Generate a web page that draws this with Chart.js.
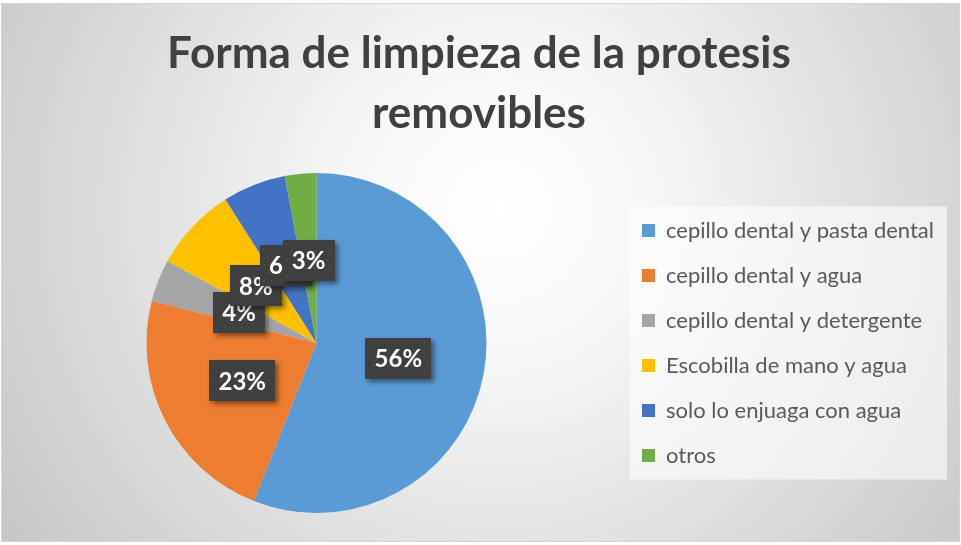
<!DOCTYPE html>
<html><head><meta charset="utf-8">
<script src="https://cdn.jsdelivr.net/npm/chart.js@4.4.1/dist/chart.umd.min.js"></script>
<style>html,body{margin:0;padding:0;background:#fff;overflow:hidden}canvas{display:block}</style>
</head><body>
<canvas id="c" width="961" height="545"></canvas>
<script>
const titleLines = ['Forma de limpieza de la protesis', 'removibles'];
const categories = ['cepillo dental y pasta dental', 'cepillo dental y agua', 'cepillo dental y detergente', 'Escobilla de mano y agua', 'solo lo enjuaga con agua', 'otros'];
const values = [56, 23, 4, 8, 6, 3];
const valueLabels = ['56%', '23%', '4%', '8%', '6%', '3%'];
const colors = ['#5B9BD5', '#ED7D31', '#A5A5A5', '#FFC000', '#4472C4', '#70AD47'];

const bgPlugin = {
  id: 'bg',
  beforeDraw(chart) {
    const ctx = chart.ctx, w = chart.width, h = chart.height;
    ctx.save();
    ctx.fillStyle = '#ffffff';
    ctx.fillRect(0, 0, w, h);
    const g = ctx.createRadialGradient(500, 210, 0, 500, 210, 600);
    g.addColorStop(0, '#ffffff');
    g.addColorStop(0.25, '#f7f7f7');
    g.addColorStop(1, '#c6c6c6');
    ctx.fillStyle = g;
    ctx.fillRect(1, 3, w - 2, h - 6);
    ctx.strokeStyle = '#d4d4d4';
    ctx.lineWidth = 1;
    ctx.strokeRect(1.5, 3.5, w - 3, h - 7);
    const lg = chart.legend;
    if (lg && lg.legendHitBoxes && lg.legendHitBoxes.length) {
      const hb = lg.legendHitBoxes;
      let l = Infinity, r = -Infinity, t = Infinity, b = -Infinity;
      hb.forEach(x => { l = Math.min(l, x.left); r = Math.max(r, x.left + x.width); t = Math.min(t, x.top); b = Math.max(b, x.top + x.height); });
      ctx.fillStyle = 'rgba(255,255,255,0.6)';
      ctx.fillRect(l - 12, t - 13, (r - l) + 25, (b - t) + 26);
    }
    ctx.restore();
  }
};

const labelPlugin = {
  id: 'boxLabels',
  afterDatasetsDraw(chart) {
    const ctx = chart.ctx;
    const meta = chart.getDatasetMeta(0);
    ctx.save();
    ctx.font = 'bold 24px Lato';
    ctx.textAlign = 'center';
    ctx.textBaseline = 'middle';
    meta.data.forEach((arc, i) => {
      const p = arc.getProps(['x', 'y', 'startAngle', 'endAngle', 'outerRadius'], true);
      const mid = (p.startAngle + p.endAngle) / 2;
      const rr = p.outerRadius * 0.49;
      const cx = p.x + Math.cos(mid) * rr;
      const cy = p.y + Math.sin(mid) * rr;
      const txt = valueLabels[i];
      const tw = ctx.measureText(txt).width;
      const bw = Math.round(tw + 18), bh = 41;
      const bx = Math.round(cx - bw / 2), by = Math.round(cy - bh / 2);
      ctx.save();
      ctx.shadowColor = 'rgba(0,0,0,0.45)';
      ctx.shadowBlur = 5;
      ctx.shadowOffsetX = 3;
      ctx.shadowOffsetY = 3;
      ctx.fillStyle = '#3f3f3f';
      ctx.fillRect(bx, by, bw, bh);
      ctx.restore();
      ctx.save();
      ctx.beginPath();
      ctx.rect(bx, by, bw, bh);
      ctx.clip();
      ctx.fillStyle = '#4b4b4b';
      for (let yy = by + 3, row = 0; yy < by + bh; yy += 8, row++) {
        for (let xx = bx + 3 + (row % 2) * 4; xx < bx + bw; xx += 8) {
          ctx.fillRect(xx, yy, 2, 2);
        }
      }
      ctx.restore();
      ctx.fillStyle = '#ffffff';
      ctx.fillText(txt, cx, cy + 1);
    });
    ctx.restore();
  }
};

new Chart(document.getElementById('c'), {
  type: 'pie',
  data: {
    labels: categories,
    datasets: [{ data: values, backgroundColor: colors, borderWidth: 0 }]
  },
  options: {
    responsive: false,
    animation: false,
    layout: { padding: { left: 14, right: 17, top: 0, bottom: 32 } },
    plugins: {
      title: {
        display: true,
        text: titleLines,
        color: '#404040',
        font: { family: 'Lato', weight: 'bold', size: 44, lineHeight: 60 / 44 },
        padding: { top: 24, bottom: 29 }
      },
      legend: {
        position: 'right',
        fullSize: false,
        labels: {
          color: '#595959',
          font: { family: 'Lato', size: 22 },
          boxWidth: 13,
          boxHeight: 13,
          padding: 23
        }
      },
      tooltip: { enabled: false }
    }
  },
  plugins: [bgPlugin, labelPlugin]
});
</script>
</body></html>
